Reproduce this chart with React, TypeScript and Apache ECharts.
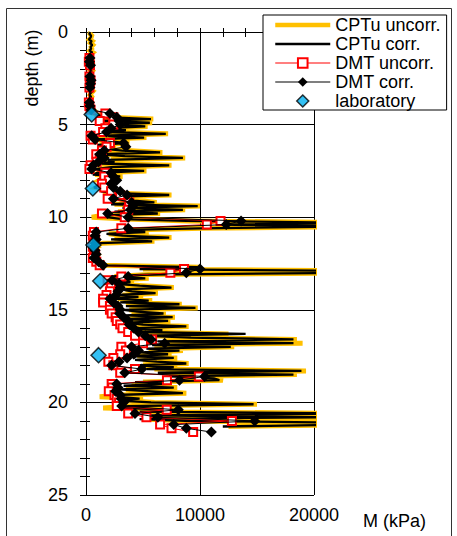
import React, { useEffect, useRef } from "react";
import * as echarts from "echarts";

// CPTu profile: depth (m) and constrained modulus M (kPa)
const cptuDepth = [
  0.0, 0.1, 0.2, 0.3, 0.4, 0.5, 0.6, 0.7, 0.8, 0.9,
  1.0, 1.1, 1.2, 1.3, 1.4, 1.5, 1.6, 1.7, 1.8, 1.9,
  2.0, 2.1, 2.2, 2.3, 2.4, 2.5, 2.6, 2.7, 2.8, 2.9,
  3.0, 3.1, 3.2, 3.3, 3.4, 3.5, 3.6, 3.7, 3.8, 3.9,
  4.0, 4.1, 4.2, 4.3, 4.4, 4.5, 4.6, 4.7, 4.8, 4.9,
  5.0, 5.1, 5.2, 5.3, 5.4, 5.5, 5.6, 5.7, 5.8, 5.9,
  6.0, 6.1, 6.2, 6.3, 6.4, 6.5, 6.6, 6.7, 6.8, 6.9,
  7.0, 7.1, 7.2, 7.3, 7.4, 7.5, 7.6, 7.7, 7.8, 7.9,
  8.0, 8.1, 8.2, 8.3, 8.4, 8.5, 8.6, 8.7, 8.8, 8.9,
  9.0, 9.1, 9.2, 9.3, 9.4, 9.5, 9.6, 9.7, 9.8, 9.9,
  10.0, 10.1, 10.2, 10.3, 10.4, 10.5, 10.6, 10.7, 10.8, 10.9,
  11.0, 11.1, 11.2, 11.3, 11.4, 11.5, 11.6, 11.7, 11.8, 11.9,
  12.0, 12.1, 12.2, 12.3, 12.4, 12.5, 12.6, 12.7, 12.8, 12.9,
  13.0, 13.1, 13.2, 13.3, 13.4, 13.5, 13.6, 13.7, 13.8, 13.9,
  14.0, 14.1, 14.2, 14.3, 14.4, 14.5, 14.6, 14.7, 14.8, 14.9,
  15.0, 15.1, 15.2, 15.3, 15.4, 15.5, 15.6, 15.7, 15.8, 15.9,
  16.0, 16.1, 16.2, 16.3, 16.4, 16.5, 16.6, 16.7, 16.8, 16.9,
  17.0, 17.1, 17.2, 17.3, 17.4, 17.5, 17.6, 17.7, 17.8, 17.9,
  18.0, 18.1, 18.2, 18.3, 18.4, 18.5, 18.6, 18.7, 18.8, 18.9,
  19.0, 19.1, 19.2, 19.3, 19.4, 19.5, 19.6, 19.7, 19.8, 19.9,
  20.0, 20.1, 20.2, 20.3, 20.4, 20.5, 20.6, 20.7, 20.8, 20.9,
  21.0, 21.1, 21.2, 21.3,
];

const cptuUncorr = [
  400, 350, 500, 450, 300, 550, 400, 600, 450, 500,
  350, 600, 400, 300, 250, 450, 300, 500, 350, 400,
  300, 550, 400, 350, 250, 300, 450, 350, 300, 500,
  400, 350, 600, 450, 350, 500, 400, 300, 450, 350,
  500, 400, 600, 800, 700, 1200, 2000, 5900, 1500, 5800,
  2500, 5400, 2000, 3800, 2200, 7200, 1800, 5300, 900, 2500,
  3800, 1200, 2600, 1800, 3500, 6700, 1500, 3700, 8700, 2200,
  2800, 1400, 7500, 2500, 1000, 5300, 1200, 800, 3200, 1500,
  1200, 2500, 1800, 1200, 900, 2000, 1500, 2800, 7500, 2500,
  3000, 4500, 6200, 2500, 10000, 3500, 8700, 2800, 6500, 1500,
  500, 3500, 9000, 24000, 12000, 24000, 10200, 3000, 5500, 2000,
  3500, 7500, 2500, 6000, 1500, 800, 1000, 700, 900, 800,
  1000, 700, 900, 800, 1000, 1200, 1500, 10000, 5000, 24000,
  24000, 5500, 2500, 5500, 2000, 4200, 3000, 5000, 7700, 3500,
  4500, 6300, 3200, 5000, 2800, 5800, 3500, 8400, 4000, 9800,
  3800, 5000, 7000, 4000, 7800, 3800, 7400, 4200, 5500, 9000,
  4500, 7000, 5200, 12500, 6000, 9500, 18500, 7000, 19000, 6500,
  13000, 6000, 8500, 5500, 7500, 4500, 8000, 5000, 6500, 9000,
  5000, 8000, 6000, 19300, 7000, 18500, 8000, 11500, 12000, 5000,
  7500, 4000, 8000, 3500, 6000, 8800, 3000, 1200, 5000, 3500,
  6000, 15000, 4000, 1500, 8000, 5000, 24000, 6000, 21000, 5000,
  9000, 24000, 24000, 12500,
];

const cptuCorr = [
  350, 300, 450, 400, 250, 500, 350, 550, 400, 450,
  300, 550, 350, 250, 200, 400, 250, 450, 300, 350,
  250, 500, 350, 300, 200, 250, 400, 300, 250, 450,
  350, 300, 550, 400, 300, 450, 350, 250, 400, 300,
  450, 350, 550, 700, 600, 1100, 1800, 5700, 1300, 5600,
  2200, 5200, 1700, 3500, 1900, 7000, 1500, 5100, 700, 2200,
  3500, 1000, 2300, 1500, 3200, 6500, 1300, 3400, 8500, 1900,
  2500, 1200, 7300, 2200, 800, 5100, 1000, 600, 3000, 1300,
  1000, 2300, 1600, 1000, 700, 1800, 1300, 2600, 7300, 2200,
  2700, 4200, 6000, 2200, 9800, 3200, 8500, 2500, 6300, 1300,
  1800, 3200, 8800, 23500, 11500, 23500, 10000, 2700, 5200, 1800,
  3200, 7300, 2200, 5800, 1300, 600, 800, 500, 700, 600,
  800, 500, 700, 600, 800, 1000, 1300, 9800, 4700, 23500,
  23500, 5200, 2200, 5200, 1700, 3900, 2600, 4700, 7500, 3100,
  4000, 6100, 2700, 4600, 2400, 5500, 3000, 8200, 3500, 9600,
  3300, 4500, 6800, 3500, 7600, 3300, 7200, 3700, 5000, 8800,
  3900, 6700, 4600, 14000, 5400, 9200, 18200, 6300, 18200, 5800,
  12700, 5300, 8200, 4800, 7200, 3800, 7700, 4300, 6200, 8800,
  4300, 7700, 5300, 18900, 6300, 18200, 7300, 11200, 11700, 4300,
  7200, 3300, 7700, 2900, 5700, 8500, 2400, 2800, 4700, 2900,
  5700, 14700, 3700, 3000, 7700, 4700, 23500, 5700, 21000, 4700,
  8700, 23500, 23500, 12000,
];

// DMT soundings
const dmtDepth = [
  1.4, 1.6, 1.8, 2.4, 2.6, 2.8, 3.0, 3.8, 4.0, 4.2,
  4.4, 4.6, 4.8, 5.0, 5.2, 5.4, 5.6, 5.8, 6.0, 6.2,
  6.4, 6.6, 6.8, 7.0, 7.2, 7.4, 7.6, 7.8, 8.0, 8.2,
  8.4, 8.6, 8.8, 9.0, 9.2, 9.4, 9.6, 9.8, 10.0, 10.2,
  10.4, 10.6, 10.8, 11.0, 11.2, 11.4, 11.6, 11.8, 12.0, 12.2,
  12.4, 12.6, 12.8, 13.0, 13.2, 13.4, 13.6, 13.8, 14.0, 14.2,
  14.4, 14.6, 14.8, 15.0, 15.2, 15.4, 15.6, 15.8, 16.0, 16.2,
  16.4, 16.6, 16.8, 17.0, 17.2, 17.4, 17.6, 17.8, 18.0, 18.2,
  18.4, 18.6, 18.8, 19.0, 19.2, 19.4, 19.6, 19.8, 20.0, 20.2,
  20.4, 20.6, 20.8, 21.0, 21.2, 21.4, 21.6,
];

const dmtUncorr = [
  300, 250, 350, 300, 400, 350, 300, 250, 300, 400,
  1700, 2400, 1200, 2400, 1700, 1500, 400, 600, 2100, 1800,
  1400, 900, 1200, 930, 400, 300, 1700, 1600, 2000, 1400,
  1600, 2200, 3000, 1900, 3800, 3800, 3700, 1400, 3400, 11800,
  10600, 3100, 700, 600, 800, 700, 600, 700, 800, 600,
  900, 1200, 8600, 7400, 3100, 1900, 2250, 2200, 2100, 1800,
  1500, 1500, 2100, 2100, 2250, 2600, 2700, 3000, 3200, 3700,
  4300, 5800, 5000, 3100, 3500, 3000, 2400, 1960, 2400, 4300,
  3000, 9900, 7100, 2250, 2300, 2000, 2500, 2700, 2900, 2700,
  7080, 3700, 5300, 12800, 6500, 7500, 9400,
];

const dmtCorr = [
  350, 300, 400, 350, 450, 400, 350, 300, 350, 450,
  2100, 2700, 2900, 3000, 2200, 1800, 500, 800, 3300, 3500,
  1600, 1200, 1600, 1100, 640, 500, 2200, 2400, 2700, 2200,
  2400, 3000, 3600, 2400, 4000, 4100, 3900, 1900, 3700, 13600,
  12300, 3700, 900, 800, 900, 800, 700, 800, 900, 700,
  1100, 1500, 10000, 8800, 3700, 2300, 2900, 3000, 2800, 2650,
  2100, 2400, 2800, 3000, 2950, 3300, 3700, 3800, 4200, 4600,
  5200, 5700, 6900, 4000, 4600, 4200, 3600, 2900, 2250, 4900,
  3400, 10400, 8200, 2700, 2800, 2600, 3000, 3100, 3300, 3130,
  8100, 4300, 6300, 14800, 7700, 8800, 11000,
];

// laboratory oedometer results
const labDepth = [4.45, 8.45, 11.5, 13.45, 17.45];
const labM = [500, 600, 650, 1250, 1100];

const FONT = "'Liberation Sans', Arial, sans-serif";

export default function App() {
  const ref = useRef<HTMLDivElement>(null);

  useEffect(() => {
    if (!ref.current) return;
    const chart = echarts.init(ref.current, undefined, { renderer: "svg" });

    const pair = (xs: number[], ds: number[]) => xs.map((v, i) => [v, ds[i]]);

    const black = "#000000";
    const axisCommon = {
      axisLine: { show: true, lineStyle: { color: black, width: 1 } },
    };

    chart.setOption({
      animation: false,
      backgroundColor: "#ffffff",
      grid: { left: 86, right: 143, top: 32, bottom: 41, show: false },
      xAxis: [
        {
          type: "value",
          min: 0,
          max: 20000,
          interval: 10000,
          position: "bottom",
          ...axisCommon,
          axisTick: { show: true, inside: false, length: 5, lineStyle: { color: black } },
          minorTick: { show: true, splitNumber: 5, length: 5, lineStyle: { color: black } },
          splitLine: { show: true, lineStyle: { color: black, width: 1 } },
          axisLabel: {
            fontSize: 18,
            color: black,
            fontFamily: FONT,
            margin: 11,
            formatter: (v: number) => String(v),
          },
        },
        {
          type: "value",
          min: 0,
          max: 20000,
          interval: 10000,
          position: "bottom",
          axisLine: { show: false },
          axisTick: { show: true, inside: true, length: 4, lineStyle: { color: black } },
          minorTick: { show: true, splitNumber: 5, length: 4, lineStyle: { color: black } },
          splitLine: { show: false },
          axisLabel: { show: false },
        },
      ],
      yAxis: [
        {
          type: "value",
          inverse: true,
          min: 0,
          max: 25,
          interval: 5,
          position: "left",
          ...axisCommon,
          axisTick: { show: true, inside: false, length: 6, lineStyle: { color: black } },
          minorTick: { show: true, splitNumber: 5, length: 6, lineStyle: { color: black } },
          splitLine: { show: true, lineStyle: { color: black, width: 1 } },
          axisLabel: {
            fontSize: 18,
            color: black,
            fontFamily: FONT,
            margin: 18,
            formatter: (v: number) => String(v),
          },
        },
        {
          type: "value",
          inverse: true,
          min: 0,
          max: 25,
          interval: 5,
          position: "left",
          axisLine: { show: false },
          axisTick: { show: true, inside: true, length: 4, lineStyle: { color: black } },
          minorTick: { show: true, splitNumber: 5, length: 4, lineStyle: { color: black } },
          splitLine: { show: false },
          axisLabel: { show: false },
        },
      ],
      legend: {
        show: true,
        orient: "vertical",
        left: 263,
        top: 15,
        padding: [1, 6, 0, 10],
        itemGap: 1,
        itemWidth: 55,
        itemHeight: 12,
        symbolKeepAspect: true,
        backgroundColor: "#ffffff",
        borderColor: black,
        borderWidth: 1,
        borderRadius: 0,
        textStyle: { fontSize: 18, color: black, fontFamily: FONT, lineHeight: 18 },
        data: [
          {
            name: "CPTu uncorr.",
            itemStyle: { opacity: 0 },
            lineStyle: { color: "#FFC000", width: 4.5 },
          },
          {
            name: "CPTu corr.",
            itemStyle: { opacity: 0 },
            lineStyle: { color: black, width: 2.5 },
          },
          { name: "DMT uncorr.", lineStyle: { color: "#FF0000", width: 1.2 } },
          { name: "DMT corr.", lineStyle: { color: black, width: 1.2 } },
          {
            name: "laboratory",
            icon: "path://M6,0 L12,6 L6,12 L0,6 Z",
            itemStyle: { color: "#00B0F0", borderColor: black, borderWidth: 1.5 },
          },
        ],
      },
      graphic: [
        {
          type: "rect",
          silent: true,
          z: -10,
          shape: { x: 6.5, y: 8.5, width: 445, height: 540 },
          style: { fill: "none", stroke: "#333333", lineWidth: 1 },
        },
        {
          type: "group",
          x: 32,
          y: 68,
          rotation: Math.PI / 2,
          children: [
            {
              type: "text",
              x: 0,
              y: 0,
              style: {
                text: "depth (m)",
                fontSize: 18,
                fontFamily: FONT,
                fill: black,
                textAlign: "center",
                textVerticalAlign: "middle",
              },
            },
          ],
        },
        {
          type: "text",
          x: 363,
          y: 521,
          style: {
            text: "M (kPa)",
            fontSize: 18,
            fontFamily: FONT,
            fill: black,
            textAlign: "left",
            textVerticalAlign: "middle",
          },
        },
      ],
      series: [
        {
          name: "CPTu uncorr.",
          type: "line",
          data: pair(cptuUncorr, cptuDepth),
          showSymbol: false,
          symbol: "none",
          clip: true,
          lineStyle: { color: "#FFC000", width: 5, join: "miter" },
          itemStyle: { color: "#FFC000" },
          z: 1,
        },
        {
          name: "CPTu corr.",
          type: "line",
          data: pair(cptuCorr, cptuDepth),
          showSymbol: false,
          symbol: "none",
          clip: true,
          lineStyle: { color: black, width: 2.3 },
          itemStyle: { color: black },
          z: 2,
        },
        {
          name: "DMT uncorr.",
          type: "line",
          data: pair(dmtUncorr, dmtDepth),
          symbol: "rect",
          symbolSize: 8,
          showAllSymbol: true,
          clip: true,
          lineStyle: { color: "#FF0000", width: 1 },
          itemStyle: { color: "#ffffff", borderColor: "#FF0000", borderWidth: 2 },
          z: 3,
        },
        {
          name: "DMT corr.",
          type: "line",
          data: pair(dmtCorr, dmtDepth),
          symbol: "diamond",
          symbolSize: 11,
          showAllSymbol: true,
          clip: true,
          lineStyle: { color: black, width: 1 },
          itemStyle: { color: black, borderColor: black, borderWidth: 0 },
          z: 4,
        },
        {
          name: "laboratory",
          type: "scatter",
          data: pair(labM, labDepth),
          symbol: "diamond",
          symbolSize: 15,
          itemStyle: { color: "#00B0F0", borderColor: black, borderWidth: 1.5 },
          z: 5,
        },
      ],
    });

    return () => chart.dispose();
  }, []);

  return (
    <div
      ref={ref}
      style={{ position: "fixed", left: 0, top: 0, width: 457, height: 536, background: "#fff" }}
    />
  );
}
